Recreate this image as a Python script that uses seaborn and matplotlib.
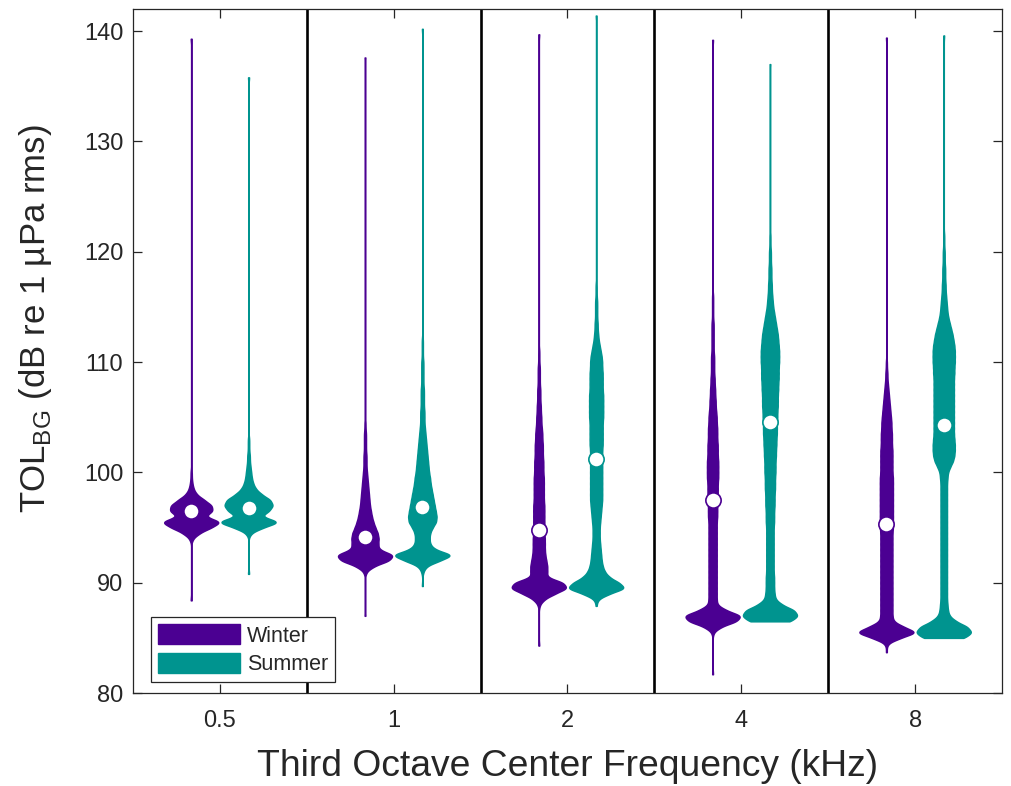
import numpy as np
import pandas as pd
import matplotlib
matplotlib.use("Agg")
import matplotlib.pyplot as plt
from matplotlib.patches import Patch
import seaborn as sns

freqs = ["0.5", "1", "2", "4", "8"]
seasons = ["Winter", "Summer"]
season_colors = ["#4B0092", "#00948F"]

# TOL_BG distributions:
# counts per 0.5 dB bin starting at *_lo, plus lowest / highest level (thin whiskers)
step_db = 0.5

winter_lo = [94.0, 91.0, 88.0, 85.5, 84.5]
winter_min = [88.4, 87.0, 84.3, 81.7, 83.7]
winter_max = [139.3, 137.6, 139.7, 139.2, 139.4]
winter_05 = [3, 14, 34, 52, 22, 37, 35, 22, 9, 4, 2, 1, 1]
winter_1 = [3, 18, 50, 60, 28, 27, 28, 26, 21, 17, 14, 12, 10, 9, 8, 7, 6, 5, 4, 3,
            3, 3, 2, 2, 2, 2, 1, 1]
winter_2 = [2, 11, 32, 58, 50, 16, 17, 17, 15, 13, 12, 12, 12, 11, 11, 11, 11, 11, 11, 10,
            10, 10, 10, 10, 9, 9, 9, 8, 8, 8, 7, 7, 6, 5, 5, 4, 4, 3, 3, 3,
            2, 2, 2, 2, 1, 1, 1]
winter_4 = [2, 16, 48, 58, 26, 9, 8, 8, 8, 8, 8, 8, 8, 8, 8, 8, 8, 8, 8, 8,
            8, 9, 9, 9, 10, 10, 10, 10, 11, 11, 11, 11, 10, 10, 10, 9, 9, 9, 8, 8,
            7, 6, 6, 5, 5, 4, 4, 3, 3, 3, 3, 2, 2, 2, 2, 2, 2, 1, 1, 1,
            1, 1]
winter_8 = [3, 28, 63, 34, 14, 12, 12, 12, 12, 12, 12, 12, 12, 12, 12, 12, 12, 12, 12, 12,
            12, 13, 13, 13, 13, 13, 13, 13, 13, 13, 13, 12, 12, 12, 12, 12, 11, 11, 11, 10,
            10, 9, 8, 7, 6, 5, 4, 3, 2, 2, 1, 1]
winter_median = [96.5, 94.1, 94.8, 97.5, 95.3]

summer_lo = [94.5, 91.0, 88.5, 86.5, 85.0]
summer_min = [90.8, 89.7, 87.9, 86.5, 85.0]
summer_max = [135.8, 140.2, 141.4, 137.0, 139.6]
summer_05 = [4, 22, 50, 18, 32, 38, 34, 20, 11, 7, 5, 4, 3, 2, 2, 1, 1, 1]
summer_1 = [2, 8, 34, 62, 24, 15, 14, 15, 20, 27, 28, 26, 24, 22, 20, 18, 16, 15, 13, 12,
            11, 10, 9, 8, 7, 6, 5, 4, 4, 4, 3, 3, 3, 3, 2, 2, 2, 2, 2, 1,
            1, 1, 1]
summer_2 = [4, 26, 60, 46, 26, 17, 13, 11, 10, 9, 8, 7, 7, 7, 8, 9, 10, 11, 12, 12,
            12, 12, 12, 12, 12, 12, 12, 12, 13, 13, 13, 13, 13, 14, 14, 14, 14, 14, 13, 13,
            13, 13, 12, 12, 11, 9, 7, 5, 4, 3, 3, 2, 2, 2, 2, 1, 1, 1]
summer_4 = [46, 62, 54, 26, 12, 10, 9, 9, 9, 8, 8, 8, 8, 8, 8, 8, 8, 8, 9, 9,
            9, 10, 10, 10, 11, 11, 11, 12, 12, 12, 13, 13, 14, 14, 15, 15, 15, 16, 16, 17,
            17, 17, 18, 18, 19, 19, 19, 20, 20, 20, 19, 18, 17, 15, 13, 11, 9, 7, 6, 5,
            4, 4, 3, 3, 3, 2, 2, 2, 1, 1, 1]
summer_8 = [46, 62, 52, 26, 12, 9, 8, 7, 7, 7, 7, 7, 7, 7, 7, 7, 7, 7, 7, 7,
            7, 7, 7, 7, 7, 7, 7, 7, 7, 8, 9, 14, 20, 23, 24, 24, 23, 22, 22, 22,
            22, 22, 22, 22, 22, 22, 22, 22, 23, 23, 24, 24, 24, 23, 21, 19, 16, 13, 10, 8,
            7, 6, 5, 4, 4, 3, 3, 3, 2, 2, 2, 1, 1, 1]
summer_median = [96.8, 96.9, 101.2, 104.6, 104.3]

winter_counts = [winter_05, winter_1, winter_2, winter_4, winter_8]
summer_counts = [summer_05, summer_1, summer_2, summer_4, summer_8]

# rebuild observations from the binned counts
parts = []
for season, los, mins, maxs, counts in [
    ("Winter", winter_lo, winter_min, winter_max, winter_counts),
    ("Summer", summer_lo, summer_min, summer_max, summer_counts),
]:
    for f, lo, mn, mx, cnt in zip(freqs, los, mins, maxs, counts):
        levels = lo + step_db * np.arange(len(cnt))
        vals = np.concatenate([[mn], np.repeat(levels, cnt), [mx]])
        parts.append(pd.DataFrame({"freq": f, "season": season, "tol": vals}))
df = pd.concat(parts, ignore_index=True)

med = pd.DataFrame({
    "freq": freqs + freqs,
    "season": ["Winter"] * len(freqs) + ["Summer"] * len(freqs),
    "tol": winter_median + summer_median,
})

sns.set_style("ticks")
plt.rcParams["font.family"] = ["Liberation Sans", "DejaVu Sans"]
ink = "#262626"

fig = plt.figure(figsize=(10.12, 7.86), dpi=100)
ax = fig.add_axes([0.1314, 0.1183, 0.8587, 0.8703])

# fixed kernel width of ~0.28 dB for every violin
sns.violinplot(data=df, x="freq", y="tol", hue="season", order=freqs, hue_order=seasons,
               palette=season_colors, saturation=1, inner=None, cut=0, gridsize=1500,
               bw_method=lambda k: 0.28 / k.dataset.std(), density_norm="width",
               common_norm=False, width=0.66, gap=0.06, linewidth=1.1, legend=False, ax=ax)
for coll in ax.collections:
    coll.set_edgecolor(coll.get_facecolor())

sns.pointplot(data=med, x="freq", y="tol", hue="season", order=freqs, hue_order=seasons,
              palette=season_colors, dodge=0.33, errorbar=None, markers="o",
              linestyles="none", markersize=11, markerfacecolor="white",
              markeredgewidth=1.2, legend=False, ax=ax)

for sep in np.arange(0.5, len(freqs) - 1):
    ax.axvline(sep, color="black", lw=1.9, zorder=0.5)

ax.set_xlim(-0.5, len(freqs) - 0.5)
ax.set_ylim(80, 142)
ax.set_yticks(range(80, 141, 10))

for side in ["top", "right", "bottom", "left"]:
    ax.spines[side].set_visible(True)
    ax.spines[side].set_color(ink)
    ax.spines[side].set_linewidth(0.9)
ax.tick_params(axis="both", direction="in", top=True, right=True, length=6.5, width=0.9,
               colors=ink, labelsize=17)
ax.tick_params(axis="x", pad=12.5)
ax.tick_params(axis="y", pad=7)

ax.set_xlabel("Third Octave Center Frequency (kHz)", fontsize=26.8, color=ink, labelpad=12)
ax.set_ylabel(r"TOL$_{\mathregular{BG}}$ (dB re 1 µPa rms)", fontsize=25, color=ink)
ax.yaxis.set_label_coords(-0.091, 0.547)

handles = [Patch(facecolor=c, edgecolor=c) for c in season_colors]
leg = ax.legend(handles, seasons, loc="lower left", bbox_to_anchor=(0.021, 0.016),
                borderaxespad=0, fancybox=False, framealpha=1, edgecolor=ink,
                fontsize=15.5, handlelength=3.8, handleheight=1.05, handletextpad=0.3,
                labelspacing=0.28, borderpad=0.33)
leg.get_frame().set_linewidth(0.9)

fig.savefig("out.png", dpi=100)
